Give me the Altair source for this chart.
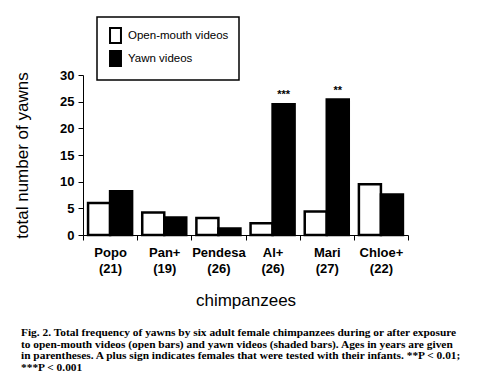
import altair as alt
import pandas as pd

chimps = ["Popo (21)", "Pan+ (19)", "Pendesa (26)", "Al+ (26)", "Mari (27)", "Chloe+ (22)"]
series = ["Open-mouth videos", "Yawn videos"]
open_mouth = [6.0, 4.2, 3.2, 2.2, 4.4, 9.5]
yawn = [8.2, 3.3, 1.2, 24.5, 25.4, 7.6]
yawn_sig = ["", "", "", "***", "**", ""]
y_ticks = [0, 5, 10, 15, 20, 25, 30]
caption = [
    "Fig. 2.  Total frequency of yawns by six adult female chimpanzees during or after exposure",
    "to open-mouth videos (open bars) and yawn videos (shaded bars). Ages in years are given",
    "in parentheses. A plus sign indicates females that were tested with their infants. **P < 0.01;",
    "***P < 0.001",
]

rows = []
for i, c in enumerate(chimps):
    rows.append({"chimp": c, "video": series[0], "yawns": open_mouth[i], "sig": ""})
    rows.append({"chimp": c, "video": series[1], "yawns": yawn[i], "sig": yawn_sig[i]})
df = pd.DataFrame(rows)

x = alt.X(
    "chimp:N",
    sort=chimps,
    scale=alt.Scale(paddingInner=0, paddingOuter=0),
    axis=alt.Axis(
        title="chimpanzees",
        labelExpr="split(datum.label, ' ')",
        tickBand="extent",
        labelAngle=0,
        labelFontSize=13,
        labelFontWeight="bold",
        labelLineHeight=16,
        labelPadding=6,
        labelColor="black",
        titleFontSize=17,
        titleFontWeight="normal",
        titlePadding=17,
        titleColor="black",
        tickSize=5,
        tickColor="black",
        domainColor="black",
    ),
)
xo = alt.XOffset("video:N", sort=series, scale=alt.Scale(paddingInner=0, paddingOuter=0.23))
y = alt.Y(
    "yawns:Q",
    scale=alt.Scale(domain=[0, 30], nice=False),
    axis=alt.Axis(
        values=y_ticks,
        title="total number of yawns",
        titleFontSize=17,
        titleFontWeight="normal",
        titleColor="black",
        titlePadding=28,
        labelFontSize=13,
        labelFontWeight="bold",
        labelColor="black",
        labelPadding=4,
        tickSize=5,
        tickColor="black",
        domainColor="black",
        grid=False,
    ),
)

bars = alt.Chart(df).mark_bar(stroke="black", strokeWidth=2.5, strokeJoin="miter").encode(
    x=x,
    xOffset=xo,
    y=y,
    fill=alt.Fill(
        "video:N",
        sort=series,
        scale=alt.Scale(domain=series, range=["white", "black"]),
        legend=alt.Legend(
            title=None,
            orient="none",
            legendX=14,
            legendY=-58,
            padding=10,
            strokeColor="black",
            symbolType="M-0.73,-1H0.73V1H-0.73Z",
            symbolSize=225,
            symbolStrokeColor="black",
            symbolStrokeWidth=2,
            labelFontSize=11.5,
            labelColor="black",
            labelOffset=4,
            rowPadding=0,
            labelLimit=200,
        ),
    ),
)

stars = alt.Chart(df).mark_text(fontSize=11, fontWeight="bold", dy=-9, color="black").encode(
    x=x,
    xOffset=xo,
    y=y,
    text="sig:N",
)

chart = (
    alt.layer(bars, stars)
    .properties(
        width=325,
        height=160,
        padding={"left": 75, "top": 67, "right": 84, "bottom": 147},
        autosize=alt.AutoSizeParams(type="none"),
        title=alt.TitleParams(
            text=caption,
            orient="bottom",
            anchor="start",
            frame="group",
            dx=-62,
            offset=19,
            font="Liberation Serif",
            fontSize=11.4,
            fontWeight="bold",
            lineHeight=11.7,
            color="black",
            baseline="top",
        ),
    )
    .configure(font="Liberation Sans", background="white")
    .configure_legend(strokeWidth=1.5)
    .configure_view(stroke=None)
)

chart.save("out.html", embed_options={"renderer": "svg", "actions": False})
